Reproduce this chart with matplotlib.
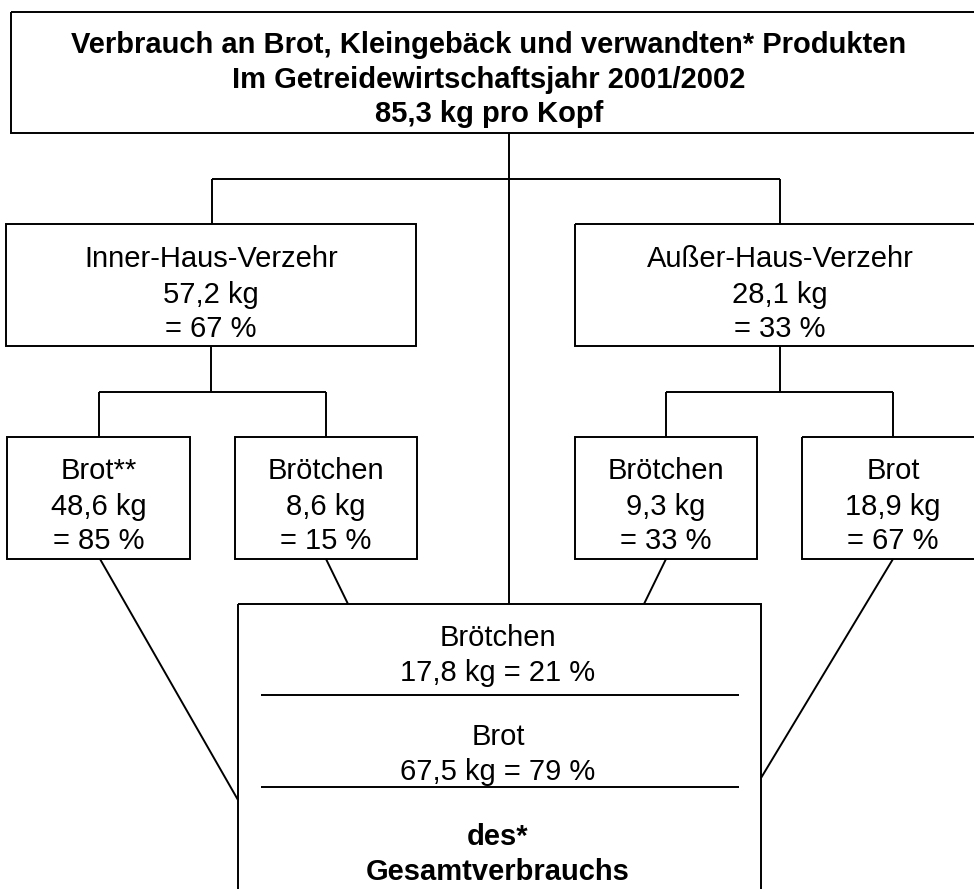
import matplotlib.pyplot as plt
from matplotlib.patches import Rectangle

plt.rcParams['font.family'] = ['Liberation Sans', 'DejaVu Sans']

# data
title_lines = ["Verbrauch an Brot, Kleingebäck und verwandten* Produkten",
               "Im Getreidewirtschaftsjahr 2001/2002",
               "85,3 kg pro Kopf"]
mid_names = ["Inner-Haus-Verzehr", "Außer-Haus-Verzehr"]
mid_kg = ["57,2", "28,1"]
mid_pct = [67, 33]
small_names = ["Brot**", "Brötchen", "Brötchen", "Brot"]
small_kg = ["48,6", "8,6", "9,3", "18,9"]
small_pct = [85, 15, 33, 67]
total_names = ["Brötchen", "Brot"]
total_kg = ["17,8", "67,5"]
total_pct = [21, 79]

fig = plt.figure(figsize=(9.74, 8.89), dpi=100)
ax = fig.add_axes([0, 0, 1, 1])
ax.set_xlim(0, 974)
ax.set_ylim(889, 0)
ax.axis("off")

lw = 1.4
fs = 21


def box(x0, y0, x1, y1):
    ax.add_patch(Rectangle((x0, y0), x1 - x0, y1 - y0, fill=False,
                           edgecolor="black", linewidth=lw))


def line(xs, ys):
    ax.plot(xs, ys, color="black", linewidth=lw, solid_capstyle="butt")


# header box
box(11, 12, 990, 133)
for y, t in zip([45, 80, 114], title_lines):
    ax.text(489, y, t, ha="center", va="center", fontsize=fs,
            fontweight="bold")

# connectors from header
line([509, 509], [133, 604])
line([212, 780], [179, 179])
line([212, 212], [179, 224])
line([780, 780], [179, 224])

# middle boxes
mid_boxes = [(6, 416), (575, 990)]
mid_cx = [211, 780]
for (x0, x1), cx, n, kg, p in zip(mid_boxes, mid_cx, mid_names, mid_kg, mid_pct):
    box(x0, 224, x1, 346)
    ax.text(cx, 259, n, ha="center", va="center", fontsize=fs)
    ax.text(cx, 295, f"{kg} kg", ha="center", va="center", fontsize=fs)
    ax.text(cx, 329, f"= {p} %", ha="center", va="center", fontsize=fs)

# second level connectors
for cx, (a, b) in zip(mid_cx, [(99, 326), (666, 893)]):
    line([cx, cx], [346, 392])
    line([a, b], [392, 392])
    line([a, a], [392, 437])
    line([b, b], [392, 437])

# small boxes
small_boxes = [(7, 190), (235, 417), (575, 757), (802, 990)]
small_cx = [99, 326, 666, 893]
for (x0, x1), cx, n, kg, p in zip(small_boxes, small_cx, small_names, small_kg, small_pct):
    box(x0, 437, x1, 559)
    ax.text(cx, 471, n, ha="center", va="center", fontsize=fs)
    ax.text(cx, 507, f"{kg} kg", ha="center", va="center", fontsize=fs)
    ax.text(cx, 541, f"= {p} %", ha="center", va="center", fontsize=fs)

# lines to total box
line([100, 238], [559, 800])
line([326, 348], [559, 604])
line([666, 644], [559, 604])
line([893, 761], [559, 778])

# total box
box(238, 604, 761, 905)
ax.text(498, 638, total_names[0], ha="center", va="center", fontsize=fs)
ax.text(498, 673, f"{total_kg[0]} kg = {total_pct[0]} %", ha="center",
        va="center", fontsize=fs)
line([261, 739], [695, 695])
ax.text(498, 737, total_names[1], ha="center", va="center", fontsize=fs)
ax.text(498, 772, f"{total_kg[1]} kg = {total_pct[1]} %", ha="center",
        va="center", fontsize=fs)
line([261, 739], [787, 787])
ax.text(498, 837, "des*", ha="center", va="center", fontsize=fs,
        fontweight="bold")
ax.text(498, 872, "Gesamtverbrauchs", ha="center", va="center", fontsize=fs,
        fontweight="bold")

fig.savefig("out.png", dpi=100)
